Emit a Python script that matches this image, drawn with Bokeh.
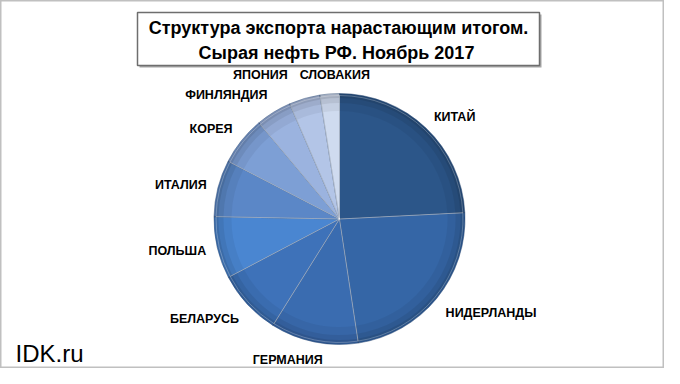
import numpy as np
from bokeh.plotting import figure
from bokeh.models import Range1d, ColumnDataSource
from bokeh.embed import file_html
from bokeh.resources import INLINE
from bokeh.core.properties import value

# ---- data ----
countries = ["КИТАЙ", "НИДЕРЛАНДЫ", "ГЕРМАНИЯ", "БЕЛАРУСЬ", "ПОЛЬША",
             "ИТАЛИЯ", "КОРЕЯ", "ФИНЛЯНДИЯ", "ЯПОНИЯ", "СЛОВАКИЯ"]
shares = [24.2, 23.4, 11.3, 8.4, 8.0, 7.3, 6.3, 4.6, 4.0, 2.5]
colors = ["#2c5689", "#3566a6", "#3a6cb0", "#3e72b9", "#4a86d1",
          "#5b87c7", "#7d9fd5", "#9bb3df", "#b3c5e7", "#cfdbef"]
title_lines = ["Структура экспорта нарастающим итогом.",
               "Сырая нефть РФ. Ноябрь 2017"]
watermark = "IDK.ru"

# ---- layout (figure pixels, y up) ----
W, H = 664, 368
CX, CY, R = 339, 149.5, 125.5
LABEL_R = 137
nudge = {"КИТАЙ": (0, -4), "ГЕРМАНИЯ": (-24, 0), "КОРЕЯ": (0, -3),
         "ЯПОНИЯ": (-41, 5), "СЛОВАКИЯ": (6, 0)}

vals = np.array(shares, dtype=float)
frac = vals / vals.sum()
cum = np.concatenate([[0], np.cumsum(frac)])
start = np.pi / 2 - 2 * np.pi * cum[:-1]
end = np.pi / 2 - 2 * np.pi * cum[1:]
mid = (start + end) / 2

lx, ly, al, bl = [], [], [], []
for name, m in zip(countries, mid):
    c, s = np.cos(m), np.sin(m)
    dx, dy = nudge.get(name, (0, 0))
    lx.append(CX + LABEL_R * c + dx)
    ly.append(CY + LABEL_R * s + dy)
    al.append("left" if c > 0.3 else ("right" if c < -0.3 else "center"))
    bl.append("bottom" if s > 0.3 else ("top" if s < -0.3 else "middle"))

src = ColumnDataSource(dict(name=countries, start=start, end=end, color=colors,
                            lx=lx, ly=ly, al=al, bl=bl))

p = figure(width=W, height=H, x_range=Range1d(0, W), y_range=Range1d(0, H),
           x_axis_type=None, y_axis_type=None, toolbar_location=None,
           output_backend="svg", min_border=0)
p.grid.visible = False
p.background_fill_color = "white"
p.border_fill_color = "white"
p.outline_line_color = "#c0c0c0"
p.outline_line_width = 2

# pie slices
p.wedge(x=CX, y=CY, radius=R, start_angle="start", end_angle="end",
        direction="clock", fill_color="color", line_color="#1e3a5f",
        line_alpha=0.45, line_width=1, source=src)
# bevel-like rim shading
for r_in, a in [(108, 0.05), (116, 0.07), (121, 0.09)]:
    p.annular_wedge(x=CX, y=CY, inner_radius=r_in, outer_radius=R - 0.5,
                    start_angle="start", end_angle="end", direction="clock",
                    fill_color="black", fill_alpha=a, line_color=None, source=src)
# light highlight along slice edges
p.wedge(x=CX, y=CY, radius=R - 2, start_angle="start", end_angle="end",
        direction="clock", fill_color=None, line_color="white",
        line_alpha=0.25, line_width=1, source=src)

# slice labels
p.text(x="lx", y="ly", text="name", text_align="al", text_baseline="bl",
       text_font=value("Liberation Sans"), text_font_style="bold",
       text_font_size="12.5px", text_color="black", source=src)

# title box
p.quad(left=139, right=541, bottom=301, top=354, fill_color="#a6a6a6",
       line_color=None)
p.quad(left=137, right=539, bottom=303, top=356, fill_color="white",
       line_color="#6e6e6e", line_width=1.5)
p.text(x=[338, 336], y=[341, 316], text=title_lines, text_align="center",
       text_baseline="middle", text_font=value("Liberation Sans"),
       text_font_style="bold", text_font_size="18px", text_color="black")

# watermark
p.text(x=[15], y=[15], text=[watermark], text_align="left",
       text_baseline="middle", text_font=value("Liberation Sans"),
       text_font_size="24px", text_color="black")

open("out.html", "w").write(file_html(p, INLINE))
